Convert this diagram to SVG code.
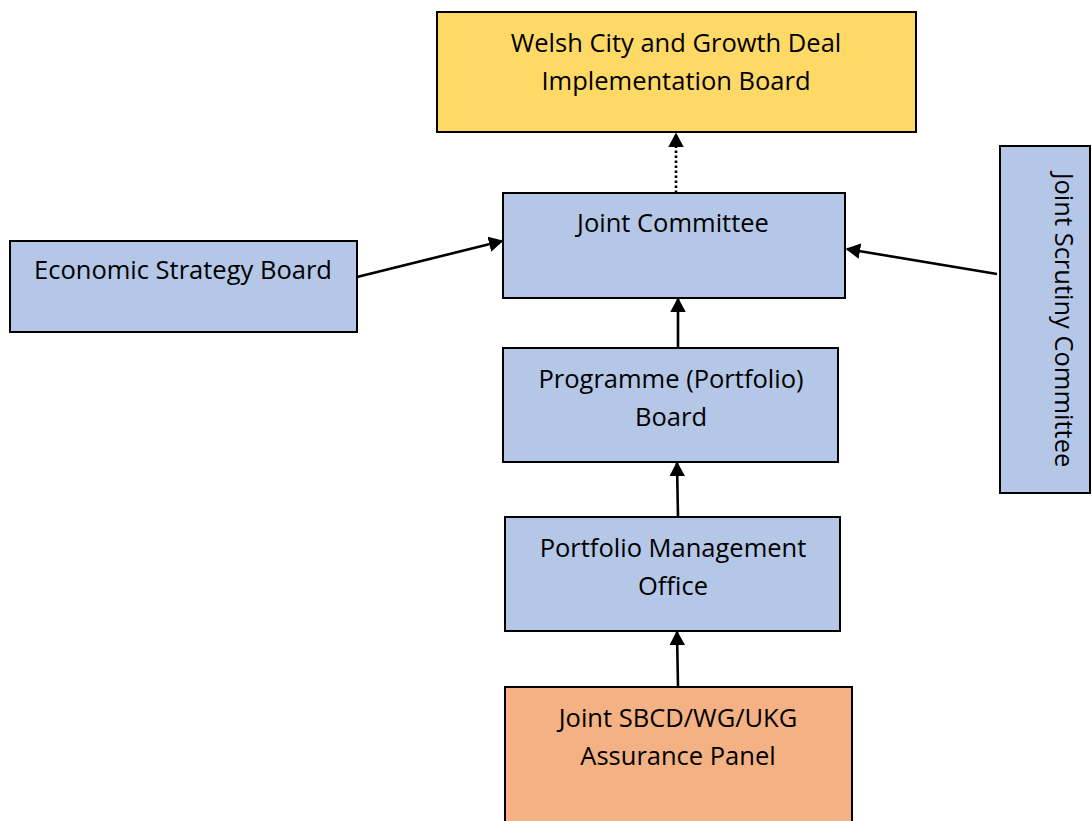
<svg xmlns="http://www.w3.org/2000/svg" width="1092" height="821" viewBox="0 0 1092 821">
<style>
.box{stroke:#000;stroke-width:2}
.blue{fill:#B4C7E7}
.yellow{fill:#FFD966}
.orange{fill:#F4B183}
text{font-family:"Open Sans","Liberation Sans",sans-serif;font-size:25.5px;fill:#000;text-anchor:middle}
.conn{stroke:#000;stroke-width:2.6;fill:none}
</style>
<defs>
<marker id="ah" viewBox="0 0 10 10" refX="9" refY="5" markerWidth="5.6" markerHeight="6" orient="auto" markerUnits="strokeWidth" preserveAspectRatio="none">
<path d="M0,0 L10,5 L0,10 z" fill="#000"/>
</marker>
</defs>
<rect width="1092" height="821" fill="#fff"/>
<g id="welsh-board">
<rect class="box yellow" x="437" y="12" width="479" height="120"/>
<text x="676" y="52">Welsh City and Growth Deal</text>
<text x="676" y="90">Implementation Board</text>
</g>
<g id="joint-committee">
<rect class="box blue" x="503" y="193" width="342" height="105"/>
<text x="673" y="232">Joint Committee</text>
</g>
<g id="economic-strategy-board">
<rect class="box blue" x="10" y="241" width="347" height="91"/>
<text x="183" y="279">Economic Strategy Board</text>
</g>
<g id="joint-scrutiny-committee">
<rect class="box blue" x="1000" y="146" width="90" height="347"/>
<text transform="translate(1055,320) rotate(90)" x="0" y="0">Joint Scrutiny Committee</text>
</g>
<g id="programme-board">
<rect class="box blue" x="503" y="348" width="335" height="114"/>
<text x="671" y="388">Programme (Portfolio)</text>
<text x="671" y="426">Board</text>
</g>
<g id="pmo">
<rect class="box blue" x="505" y="517" width="335" height="114"/>
<text x="673" y="557">Portfolio Management</text>
<text x="673" y="595">Office</text>
</g>
<g id="assurance-panel">
<rect class="box orange" x="505" y="687" width="347" height="140"/>
<text x="678" y="727">Joint SBCD/WG/UKG</text>
<text x="678" y="765">Assurance Panel</text>
</g>
<g id="connectors">
<path class="conn" d="M676,193 L676,134" stroke-width="3" stroke-dasharray="2.5,2.5" marker-end="url(#ah)"/>
<path class="conn" d="M357,277 L502,241" marker-end="url(#ah)"/>
<path class="conn" d="M997,274 L847,249" marker-end="url(#ah)"/>
<path class="conn" d="M678,347 L678,299" marker-end="url(#ah)"/>
<path class="conn" d="M678,517 L677,463" marker-end="url(#ah)"/>
<path class="conn" d="M678,687 L677,632" marker-end="url(#ah)"/>
</g>
</svg>
